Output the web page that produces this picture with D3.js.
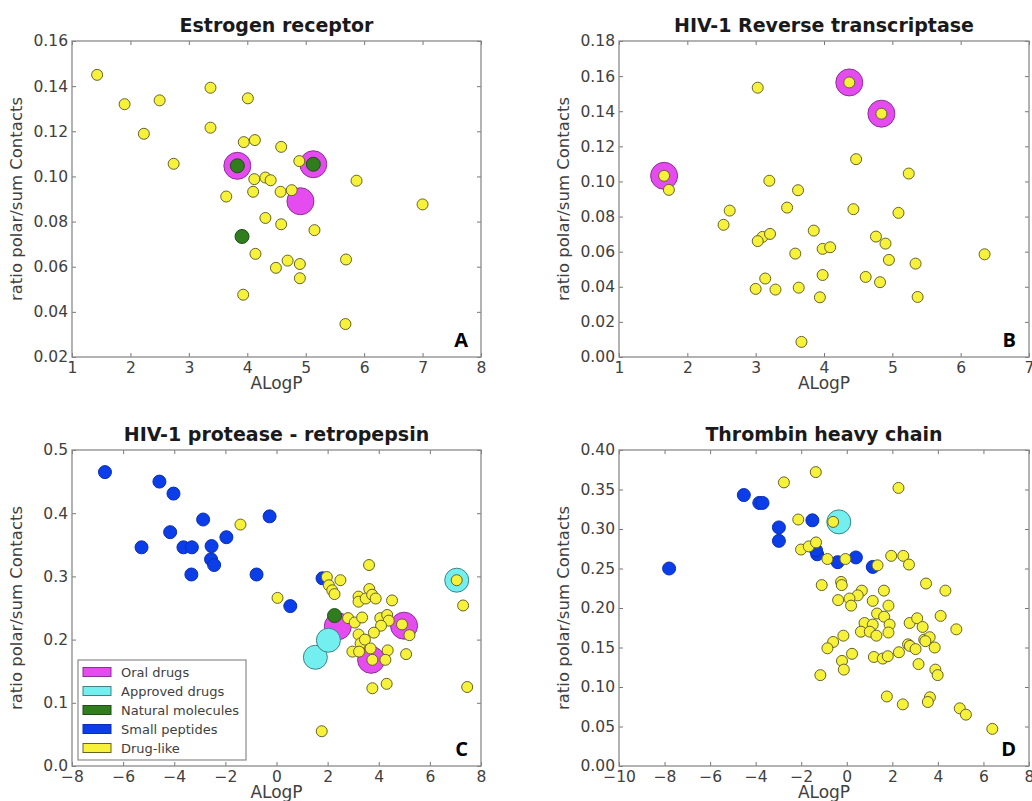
<!DOCTYPE html>
<html>
<head>
<meta charset="utf-8">
<script src="https://cdn.jsdelivr.net/npm/d3@7"></script>
<style>
  body { margin: 0; background: #fff; }
  svg { display: block; }
  .tick text { font-family: "DejaVu Sans", sans-serif; font-size: 15.5px; fill: #404040; }
  .tick line { stroke: #777; stroke-width: 1; }
</style>
</head>
<body>
<svg id="fig" width="1032" height="801"></svg>
<script>
// ---- Panel A: Estrogen receptor ----
const estrogenOral = [[3.83, 0.1047], [5.13, 0.1054], [4.91, 0.0890]];
const estrogenNatural = [[3.83, 0.1047], [5.13, 0.1054], [3.91, 0.0734]];
const estrogenDrugLike = [
  [1.43, 0.145], [1.90, 0.132], [2.50, 0.1337], [2.23, 0.1189], [2.74, 0.1056],
  [3.37, 0.1393], [3.37, 0.1216], [4.01, 0.1346], [3.94, 0.1152], [4.13, 0.1161],
  [4.58, 0.1131], [4.89, 0.1068], [4.12, 0.0988], [4.31, 0.0995], [4.40, 0.0983],
  [5.87, 0.0981], [3.64, 0.0911], [4.10, 0.0932], [4.57, 0.0932], [4.76, 0.0939],
  [7.00, 0.0876], [4.31, 0.0816], [4.58, 0.0788], [5.15, 0.0762], [4.14, 0.0657],
  [4.69, 0.0627], [4.90, 0.0612], [4.49, 0.0595], [4.90, 0.0549], [5.69, 0.0632],
  [3.93, 0.0476], [5.68, 0.0346]
];

// ---- Panel B: HIV-1 Reverse transcriptase ----
const rtOral = [[4.37, 0.1564], [4.84, 0.1386], [1.66, 0.1032]];
const rtDrugLike = [
  [4.37, 0.1564], [4.84, 0.1386], [1.66, 0.1032], [3.03, 0.1534], [1.73, 0.0952],
  [4.47, 0.1127], [5.24, 0.1045], [3.20, 0.1004], [3.62, 0.0950], [2.62, 0.0834],
  [2.53, 0.0753], [3.46, 0.0851], [4.43, 0.0842], [5.09, 0.0821], [3.85, 0.0720],
  [3.10, 0.0684], [3.21, 0.0701], [3.03, 0.0660], [4.76, 0.0686], [4.90, 0.0646],
  [3.98, 0.0616], [4.09, 0.0625], [3.58, 0.0589], [4.95, 0.0553], [5.34, 0.0532],
  [6.35, 0.0585], [3.98, 0.0467], [4.61, 0.0456], [4.82, 0.0426], [3.14, 0.0447],
  [3.00, 0.0388], [3.29, 0.0384], [3.63, 0.0395], [3.94, 0.0340], [5.37, 0.0342],
  [3.67, 0.0086]
];

// ---- Panel C: HIV-1 protease - retropepsin ----
const proteaseOral = [[2.40, 0.221], [4.99, 0.222], [3.70, 0.168]];
const proteaseApproved = [[1.52, 0.172], [2.03, 0.199], [7.05, 0.294]];
const proteaseNatural = [[2.27, 0.238]];
const proteasePeptides = [
  [-6.71, 0.465], [-4.58, 0.450], [-4.03, 0.431], [-4.16, 0.370], [-5.28, 0.346],
  [-3.64, 0.346], [-3.31, 0.346], [-2.87, 0.390], [-1.96, 0.362], [-2.54, 0.348],
  [-2.56, 0.327], [-2.44, 0.318], [-3.33, 0.303], [-0.78, 0.303], [-0.27, 0.395],
  [0.54, 0.253], [1.80, 0.297]
];
const proteaseDrugLike = [
  [-1.41, 0.382], [0.04, 0.266], [1.97, 0.299], [2.05, 0.286], [2.18, 0.278],
  [2.27, 0.272], [2.50, 0.294], [3.62, 0.318], [3.21, 0.268], [3.21, 0.260],
  [3.49, 0.265], [3.63, 0.280], [3.74, 0.271], [3.88, 0.265], [4.52, 0.262],
  [2.80, 0.234], [3.06, 0.227], [3.35, 0.235], [4.06, 0.234], [4.33, 0.239],
  [4.39, 0.230], [4.09, 0.222], [3.81, 0.211], [3.21, 0.208], [3.29, 0.194],
  [3.46, 0.200], [2.97, 0.181], [3.23, 0.181], [3.68, 0.186], [4.35, 0.183],
  [4.26, 0.168], [3.75, 0.168], [4.91, 0.224], [5.20, 0.207], [5.07, 0.177],
  [3.75, 0.123], [4.31, 0.130], [7.05, 0.294], [7.30, 0.254], [7.46, 0.125],
  [1.77, 0.055]
];

// ---- Panel D: Thrombin heavy chain ----
const thrombinApproved = [[-0.35, 0.309]];
const thrombinPeptides = [
  [-7.80, 0.250], [-4.52, 0.343], [-3.84, 0.333], [-3.70, 0.333], [-2.98, 0.302],
  [-2.98, 0.285], [-1.51, 0.311], [-1.30, 0.268], [-1.35, 0.273], [-0.40, 0.258],
  [0.40, 0.264], [1.14, 0.252]
];
const thrombinDrugLike = [
  [-1.36, 0.372], [-2.76, 0.359], [2.27, 0.352], [-2.13, 0.312], [-0.60, 0.309],
  [-2.01, 0.274], [-1.67, 0.278], [-1.35, 0.283], [-0.85, 0.262], [-0.06, 0.262],
  [1.35, 0.254], [1.95, 0.266], [2.48, 0.266], [2.73, 0.255], [-1.10, 0.229],
  [-0.25, 0.233], [-0.22, 0.229], [0.66, 0.222], [0.48, 0.216], [1.63, 0.222],
  [3.48, 0.231], [4.33, 0.222], [-0.38, 0.210], [0.12, 0.212], [0.19, 0.203],
  [1.14, 0.209], [1.83, 0.203], [1.33, 0.193], [1.64, 0.189], [4.12, 0.190],
  [0.78, 0.181], [1.14, 0.179], [1.88, 0.179], [2.76, 0.181], [3.09, 0.187],
  [3.33, 0.176], [4.81, 0.173], [0.62, 0.170], [1.01, 0.170], [1.30, 0.165],
  [1.83, 0.169], [-0.15, 0.165], [-0.60, 0.157], [-0.85, 0.149], [2.69, 0.154],
  [2.77, 0.152], [3.02, 0.148], [3.40, 0.160], [3.64, 0.163], [3.86, 0.150],
  [3.45, 0.158], [2.29, 0.144], [0.23, 0.142], [1.19, 0.138], [1.58, 0.136],
  [1.80, 0.139], [-0.21, 0.133], [-0.13, 0.122], [3.15, 0.129], [3.89, 0.122],
  [3.99, 0.115], [-1.16, 0.115], [1.76, 0.088], [2.46, 0.078], [3.65, 0.087],
  [3.56, 0.081], [4.96, 0.073], [5.23, 0.065], [6.39, 0.047]
];

// Axis ticks
const ticksAX = [1, 2, 3, 4, 5, 6, 7, 8];
const ticksAY = [0.02, 0.04, 0.06, 0.08, 0.10, 0.12, 0.14, 0.16];
const ticksBX = [1, 2, 3, 4, 5, 6, 7];
const ticksBY = [0.00, 0.02, 0.04, 0.06, 0.08, 0.10, 0.12, 0.14, 0.16, 0.18];
const ticksCX = [-8, -6, -4, -2, 0, 2, 4, 6, 8];
const ticksCY = [0.0, 0.1, 0.2, 0.3, 0.4, 0.5];
const ticksDX = [-10, -8, -6, -4, -2, 0, 2, 4, 6, 8];
const ticksDY = [0.00, 0.05, 0.10, 0.15, 0.20, 0.25, 0.30, 0.35, 0.40];

// Legend entries
const legendLabels = ["Oral drugs", "Approved drugs", "Natural molecules", "Small peptides", "Drug-like"];

// Marker styles by class
const styles = {
  oral:     { fill: "#e54cf0", stroke: "#8d2f93", r: 13.5 },
  approved: { fill: "#74efef", stroke: "#3b8585", r: 12 },
  natural:  { fill: "#2f7d1c", stroke: "#1f4f14", r: 7 },
  peptide:  { fill: "#0b3de9", stroke: "#0a2fb5", r: 6.5 },
  druglike: { fill: "#f6f23a", stroke: "#66622a", r: 5.5 }
};

const svg = d3.select("#fig");
const fontMain = '"DejaVu Sans", sans-serif';

function panel(cfg) {
  const g = svg.append("g");
  const x = d3.scaleLinear().domain(cfg.xDomain).range([cfg.left, cfg.right]);
  const y = d3.scaleLinear().domain(cfg.yDomain).range([cfg.bottom, cfg.top]);

  // inward ticks on all four sides
  g.append("g").attr("transform", `translate(0,${cfg.bottom})`)
    .call(d3.axisBottom(x).tickValues(cfg.xTicks).tickFormat(d3.format("d"))
      .tickSizeInner(-4).tickSizeOuter(0).tickPadding(5))
    .call(a => a.select(".domain").remove());
  g.append("g").attr("transform", `translate(${cfg.left},0)`)
    .call(d3.axisLeft(y).tickValues(cfg.yTicks).tickFormat(d3.format(cfg.yFormat))
      .tickSizeInner(-4).tickSizeOuter(0).tickPadding(4))
    .call(a => a.select(".domain").remove());
  g.append("g").attr("transform", `translate(0,${cfg.top})`)
    .call(d3.axisTop(x).tickValues(cfg.xTicks).tickFormat("").tickSizeInner(-4).tickSizeOuter(0))
    .call(a => a.select(".domain").remove());
  g.append("g").attr("transform", `translate(${cfg.right},0)`)
    .call(d3.axisRight(y).tickValues(cfg.yTicks).tickFormat("").tickSizeInner(-4).tickSizeOuter(0))
    .call(a => a.select(".domain").remove());

  // markers, layered: oral, approved, natural, peptides, drug-like
  const plot = g.append("g");
  cfg.series.forEach(([data, key]) => {
    const s = styles[key];
    plot.append("g").selectAll("circle").data(data).join("circle")
      .attr("cx", d => x(d[0])).attr("cy", d => y(d[1]))
      .attr("r", s.r).attr("fill", s.fill).attr("stroke", s.stroke)
      .attr("stroke-width", 1);
  });

  // frame
  g.append("rect")
    .attr("x", cfg.left).attr("y", cfg.top)
    .attr("width", cfg.right - cfg.left).attr("height", cfg.bottom - cfg.top)
    .attr("fill", "none").attr("stroke", "#8a8a8a").attr("stroke-width", 1.3);

  // title
  g.append("text").attr("x", (cfg.left + cfg.right) / 2).attr("y", cfg.top - 9)
    .attr("text-anchor", "middle").attr("font-family", fontMain)
    .attr("font-weight", "bold").attr("font-size", 19).attr("fill", "#1a1a1a")
    .text(cfg.title);

  // axis labels
  g.append("text").attr("x", (cfg.left + cfg.right) / 2).attr("y", cfg.bottom + 32)
    .attr("text-anchor", "middle").attr("font-family", fontMain)
    .attr("font-size", 17).attr("fill", "#404040").text("ALogP");
  g.append("text")
    .attr("transform", `translate(${cfg.left - 50},${(cfg.top + cfg.bottom) / 2}) rotate(-90)`)
    .attr("text-anchor", "middle").attr("font-family", fontMain)
    .attr("font-size", 16.5).attr("fill", "#404040").text("ratio polar/sum Contacts");

  // panel letter
  g.append("text").attr("x", cfg.right - 13).attr("y", cfg.bottom - 10)
    .attr("text-anchor", "end").attr("font-family", '"Open Sans", "Liberation Sans", sans-serif')
    .attr("font-weight", "bold").attr("font-size", 20).attr("fill", "#000")
    .text(cfg.letter);

  return g;
}

panel({
  title: "Estrogen receptor", letter: "A",
  left: 72, right: 481, top: 41, bottom: 357,
  xDomain: [1, 8], yDomain: [0.02, 0.16], xTicks: ticksAX, yTicks: ticksAY, yFormat: ".2f",
  series: [[estrogenOral, "oral"], [estrogenNatural, "natural"], [estrogenDrugLike, "druglike"]]
});

panel({
  title: "HIV-1 Reverse transcriptase", letter: "B",
  left: 619, right: 1029, top: 41, bottom: 357,
  xDomain: [1, 7], yDomain: [0, 0.18], xTicks: ticksBX, yTicks: ticksBY, yFormat: ".2f",
  series: [[rtOral, "oral"], [rtDrugLike, "druglike"]]
});

panel({
  title: "HIV-1 protease - retropepsin", letter: "C",
  left: 72, right: 481, top: 450, bottom: 766,
  xDomain: [-8, 8], yDomain: [0, 0.5], xTicks: ticksCX, yTicks: ticksCY, yFormat: ".1f",
  series: [[proteaseOral, "oral"], [proteaseApproved, "approved"], [proteaseNatural, "natural"],
           [proteasePeptides, "peptide"], [proteaseDrugLike, "druglike"]]
});

panel({
  title: "Thrombin heavy chain", letter: "D",
  left: 619, right: 1029, top: 450, bottom: 766,
  xDomain: [-10, 8], yDomain: [0, 0.4], xTicks: ticksDX, yTicks: ticksDY, yFormat: ".2f",
  series: [[thrombinApproved, "approved"], [thrombinPeptides, "peptide"], [thrombinDrugLike, "druglike"]]
});

// legend inside panel C
const legendKeys = ["oral", "approved", "natural", "peptide", "druglike"];
const lg = svg.append("g").attr("transform", "translate(78,660)");
lg.append("rect").attr("width", 168).attr("height", 100)
  .attr("fill", "#fff").attr("stroke", "#8a8a8a").attr("stroke-width", 1.2);
const rows = lg.selectAll("g.row").data(legendLabels).join("g")
  .attr("class", "row")
  .attr("transform", (d, i) => `translate(0,${12 + i * 19})`);
rows.append("rect").attr("x", 5).attr("y", -4.5).attr("width", 28).attr("height", 9)
  .attr("fill", (d, i) => styles[legendKeys[i]].fill)
  .attr("stroke", (d, i) => styles[legendKeys[i]].stroke).attr("stroke-width", 1);
rows.append("text").attr("x", 43).attr("y", 0).attr("dy", "0.35em")
  .attr("font-family", fontMain).attr("font-size", 13).attr("fill", "#404040")
  .text(d => d);
</script>
</body>
</html>
